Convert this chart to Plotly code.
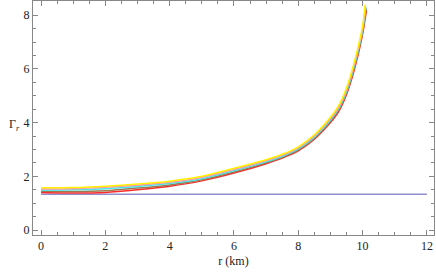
import plotly.graph_objects as go

r = [0, 1, 2, 3, 4, 5, 6, 7, 7.5, 8, 8.5, 9, 9.25, 9.5, 9.75, 10.0]
r_end = [10.08, 10.09, 10.1, 10.11, 10.12]

yellow = [1.57, 1.58, 1.63, 1.71, 1.82, 2.00, 2.30, 2.62, 2.82, 3.10, 3.55, 4.20, 4.62, 5.30, 6.30, 7.60]
pink   = [1.53, 1.54, 1.59, 1.67, 1.78, 1.96, 2.25, 2.58, 2.78, 3.06, 3.50, 4.15, 4.56, 5.22, 6.22, 7.52]
cyan   = [1.49, 1.50, 1.54, 1.62, 1.73, 1.91, 2.21, 2.54, 2.74, 3.02, 3.46, 4.10, 4.51, 5.16, 6.15, 7.45]
brown  = [1.44, 1.43, 1.46, 1.56, 1.68, 1.87, 2.16, 2.50, 2.71, 2.98, 3.42, 4.05, 4.46, 5.10, 6.08, 7.38]
red    = [1.40, 1.38, 1.40, 1.50, 1.63, 1.83, 2.12, 2.47, 2.68, 2.95, 3.38, 4.00, 4.40, 5.05, 6.00, 7.30]
end_vals = [8.40, 8.35, 8.30, 8.25, 8.20]

r_flat = [0, 12]
gamma_flat = [1.333, 1.333]

series = [
    ("purple", r_flat, gamma_flat, "#8f8fd0", None),
    ("red", r, red, "#ff2a2a", 4),
    ("brown", r, brown, "#a07850", 3),
    ("cyan", r, cyan, "#40e8e8", 2),
    ("pink", r, pink, "#ff9aa8", 1),
    ("yellow", r, yellow, "#fff200", 0),
]

FONT = "Liberation Serif, Times New Roman, serif"

fig = go.Figure()
for name, xs, ys, col, k in series:
    if k is not None:
        xs = list(xs) + [r_end[k]]
        ys = list(ys) + [end_vals[k]]
    fig.add_trace(go.Scatter(x=xs, y=ys, mode="lines", name=name,
                             line=dict(color=col, width=1.5, shape="spline", smoothing=0.6),
                             showlegend=False, hoverinfo="skip"))

axis_common = dict(
    showline=True, linecolor="#888888", linewidth=1, mirror="ticks",
    ticks="inside", ticklen=5, tickcolor="#888888", tickwidth=1,
    showgrid=False, zeroline=False, automargin=False,
    tickfont=dict(family=FONT, size=12, color="#222222"),
)

fig.update_xaxes(range=[-0.25, 12.22], tick0=0, dtick=2,
                 minor=dict(dtick=0.5, ticks="inside", ticklen=3, tickcolor="#888888"),
                 title=dict(text="r (km)", font=dict(family=FONT, size=12, color="#222222"), standoff=4),
                 **axis_common)
fig.update_yaxes(range=[-0.186, 8.53], tick0=0, dtick=2,
                 minor=dict(dtick=0.5, ticks="inside", ticklen=3, tickcolor="#888888"),
                 **axis_common)

fig.add_annotation(text="Γ<sub><i>r</i></sub>", xref="paper", yref="paper", x=-0.065, y=0.47,
                   showarrow=False, font=dict(family=FONT, size=12, color="#222222"))

fig.update_layout(width=436, height=273, margin=dict(l=33, r=2, t=1, b=38),
                  plot_bgcolor="white", paper_bgcolor="white", hovermode=False)

fig.write_html("out.html", config={"displayModeBar": False},
               post_script="document.body.style.margin='0';document.body.style.padding='0';")
